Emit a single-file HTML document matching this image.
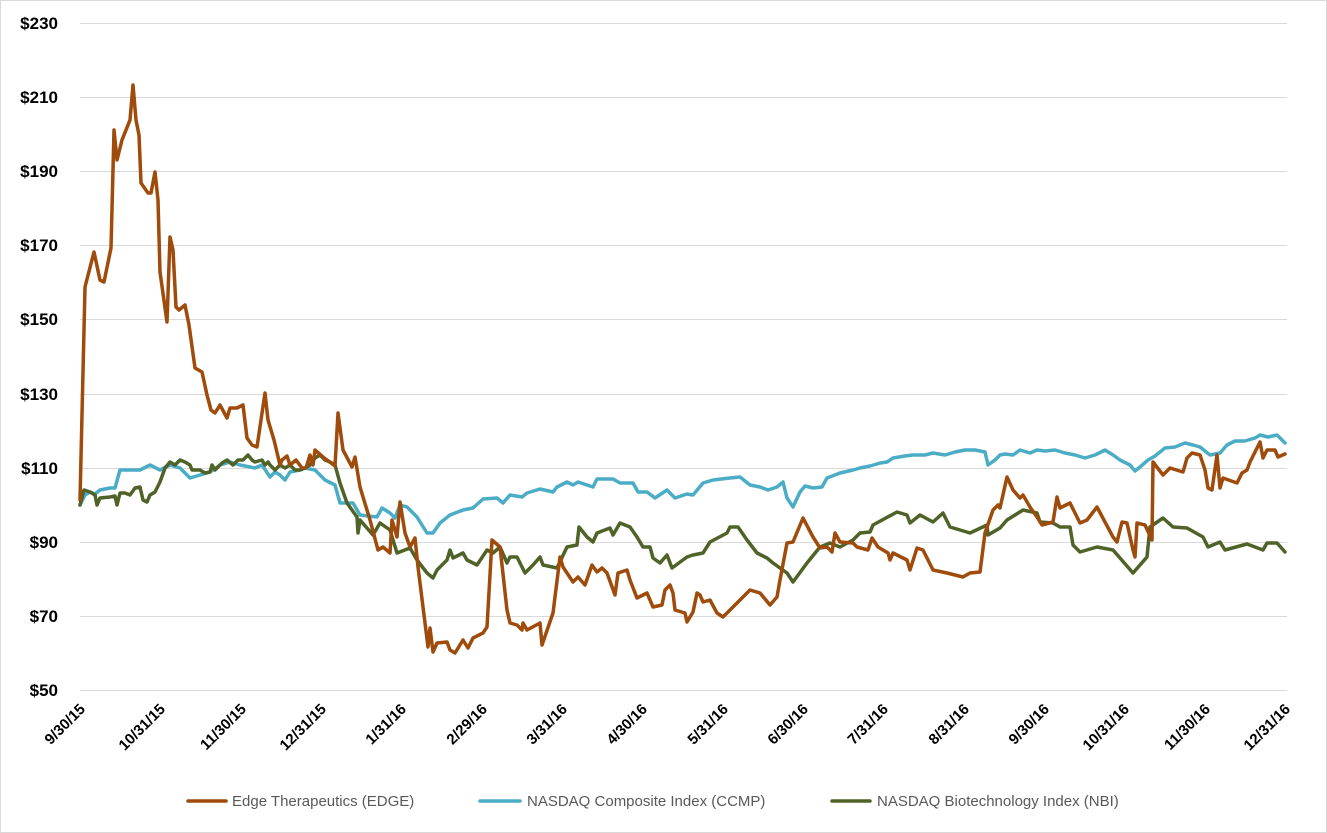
<!DOCTYPE html>
<html><head><meta charset="utf-8"><style>
html,body{margin:0;padding:0;background:#fff;}
svg{display:block;}
</style></head><body>
<svg width="1327" height="833" xmlns="http://www.w3.org/2000/svg" font-family="'Liberation Sans', sans-serif">
<rect x="0.5" y="0.5" width="1326" height="832" fill="#fff" stroke="#d9d9d9"/>
<g stroke="#d9d9d9" stroke-width="1">
<line x1="80" x2="1287" y1="23.5" y2="23.5"/>
<line x1="80" x2="1287" y1="97.5" y2="97.5"/>
<line x1="80" x2="1287" y1="171.5" y2="171.5"/>
<line x1="80" x2="1287" y1="245.5" y2="245.5"/>
<line x1="80" x2="1287" y1="319.5" y2="319.5"/>
<line x1="80" x2="1287" y1="394.5" y2="394.5"/>
<line x1="80" x2="1287" y1="468.5" y2="468.5"/>
<line x1="80" x2="1287" y1="542.5" y2="542.5"/>
<line x1="80" x2="1287" y1="616.5" y2="616.5"/>
<line x1="80" x2="1287" y1="690.5" y2="690.5"/>
</g>
<g font-size="17" font-weight="bold" fill="#000" text-anchor="end">
<text x="58" y="29">$230</text><text x="58" y="103">$210</text><text x="58" y="177">$190</text>
<text x="58" y="251">$170</text><text x="58" y="325">$150</text><text x="58" y="400">$130</text>
<text x="58" y="474">$110</text><text x="58" y="548">$90</text><text x="58" y="622">$70</text>
<text x="58" y="696">$50</text>
</g>
<g font-size="15" font-weight="bold" fill="#000" text-anchor="end">
<text transform="translate(86,710) rotate(-45)">9/30/15</text>
<text transform="translate(166,710) rotate(-45)">10/31/15</text>
<text transform="translate(247,710) rotate(-45)">11/30/15</text>
<text transform="translate(327,710) rotate(-45)">12/31/15</text>
<text transform="translate(407,710) rotate(-45)">1/31/16</text>
<text transform="translate(488,710) rotate(-45)">2/29/16</text>
<text transform="translate(568,710) rotate(-45)">3/31/16</text>
<text transform="translate(648,710) rotate(-45)">4/30/16</text>
<text transform="translate(729,710) rotate(-45)">5/31/16</text>
<text transform="translate(809,710) rotate(-45)">6/30/16</text>
<text transform="translate(889,710) rotate(-45)">7/31/16</text>
<text transform="translate(970,710) rotate(-45)">8/31/16</text>
<text transform="translate(1050,710) rotate(-45)">9/30/16</text>
<text transform="translate(1130,710) rotate(-45)">10/31/16</text>
<text transform="translate(1211,710) rotate(-45)">11/30/16</text>
<text transform="translate(1291,710) rotate(-45)">12/31/16</text>
</g>
<g fill="none" stroke-width="3.5" stroke-linejoin="round" stroke-linecap="round">
<polyline stroke="#4BACC6" points="80,505 85,495 90,492 95,494 100,490 110,488 115,488 120,470 125,470 135,470 140,470 150,465 160,470 170,465 180,468 190,478 200,475 210,472 220,465 230,462 240,465 250,467 255,468 262,465 270,477 275,472 280,475 285,480 290,472 300,470 305,468 315,470 325,480 335,485 340,503 353,503 360,515 377,517 382,508 390,513 395,518 400,505 407,507 417,517 427,533 433,533 440,523 450,515 463,510 473,508 483,499 497,498 503,503 510,495 522,497 527,493 540,489 553,492 557,487 567,482 573,485 578,482 593,487 597,479 613,479 620,483 633,483 638,492 647,492 655,498 667,490 675,498 687,494 693,495 703,483 713,480 730,478 740,477 750,485 760,487 768,490 777,487 783,482 787,498 793,507 800,492 805,486 813,488 822,487 827,478 840,473 853,470 860,468 870,466 880,463 887,462 893,458 905,456 913,455 925,455 933,453 945,455 955,452 965,450 975,450 985,452 988,465 995,460 1000,455 1005,454 1013,455 1020,450 1030,453 1037,450 1045,451 1055,450 1065,453 1075,455 1085,458 1095,455 1105,450 1113,455 1120,460 1130,465 1135,471 1140,467 1148,460 1155,456 1165,448 1175,447 1185,443 1193,445 1200,447 1210,455 1220,453 1227,445 1235,441 1245,441 1255,438 1260,435 1268,437 1277,435 1285,443"/>
<polyline stroke="#4F6228" points="80,505 84,490 90,492 95,495 97,505 100,498 110,497 115,496 117,505 120,493 125,493 130,495 135,488 140,487 143,500 147,502 150,495 155,492 160,482 165,468 170,462 175,465 180,460 185,462 190,465 192,470 200,470 205,473 210,472 212,465 215,470 222,463 227,460 233,465 238,460 243,460 248,455 252,460 255,462 262,460 265,465 268,462 270,465 275,470 280,465 285,468 290,465 295,470 300,470 305,468 310,465 315,458 320,455 325,460 330,462 335,465 340,483 347,503 357,517 358,533 360,520 373,535 380,523 390,530 397,553 410,548 417,560 427,573 433,578 437,570 447,560 450,550 453,558 463,553 467,560 477,565 487,550 493,553 500,547 507,563 510,557 517,557 525,573 533,565 540,557 543,565 557,568 567,547 577,545 579,527 587,537 593,542 597,533 610,528 613,535 620,523 630,527 637,537 643,547 650,547 653,558 660,563 667,555 672,568 687,557 693,555 703,553 710,542 727,533 730,527 738,527 747,540 757,553 767,558 773,563 787,573 793,582 807,563 820,547 830,543 840,547 853,540 860,533 870,532 873,525 897,512 907,515 910,523 920,515 933,522 943,513 950,527 970,533 987,525 988,535 1000,528 1007,520 1023,510 1037,513 1040,522 1053,523 1060,527 1070,527 1073,545 1080,552 1097,547 1113,550 1120,558 1133,573 1147,557 1150,527 1163,518 1173,527 1187,528 1203,537 1208,547 1220,542 1225,550 1247,544 1263,550 1267,543 1277,543 1285,552"/>
<polyline stroke="#9E4B0B" points="80,500 85,287 94,252 100,280 104,282 111,248 114,130 117,160 122,140 130,120 133,85 136,120 139,135 141,183 148,193 151,193 155,172 158,200 160,272 167,322 170,237 173,250 176,307 179,310 185,305 189,325 195,368 202,372 207,395 211,410 215,413 220,405 227,418 230,408 237,408 243,405 247,438 252,445 257,447 265,393 268,420 274,440 280,465 282,460 287,456 290,465 296,460 302,468 306,468 310,455 313,465 315,450 323,457 327,460 335,466 338,413 343,450 352,467 355,457 360,487 370,520 378,550 383,547 390,553 392,520 397,537 400,502 405,533 410,547 415,538 418,567 428,647 430,628 433,652 437,643 447,642 450,650 455,653 463,640 468,648 473,638 483,633 487,627 492,540 500,547 507,610 510,623 517,625 522,630 523,623 527,630 540,623 542,645 553,613 560,557 563,567 573,582 578,577 585,585 592,565 597,572 602,568 607,573 615,595 618,573 627,570 630,580 637,598 647,593 653,607 662,605 665,590 670,585 673,593 675,610 685,613 687,622 693,612 697,593 700,595 703,602 710,600 717,613 723,617 727,613 740,600 750,590 760,593 770,605 777,597 780,580 787,543 793,542 803,518 813,537 820,548 827,547 832,552 835,533 840,542 853,543 857,547 868,550 872,538 878,547 888,553 890,560 893,553 907,560 910,570 917,548 923,550 933,570 947,573 963,577 970,573 980,572 985,533 993,510 998,505 1000,508 1007,477 1013,490 1020,498 1023,495 1030,507 1037,517 1042,525 1053,522 1057,497 1060,508 1070,503 1080,523 1087,520 1097,507 1113,537 1117,542 1122,522 1127,523 1133,550 1135,557 1137,523 1145,525 1152,540 1153,462 1163,475 1170,468 1183,472 1187,458 1192,453 1200,455 1205,470 1208,488 1212,490 1217,455 1220,488 1223,478 1237,483 1242,473 1247,470 1250,462 1260,442 1263,458 1267,450 1275,450 1278,457 1285,454"/>
</g>
<g font-size="15" fill="#595959">
<line x1="188" x2="226" y1="801" y2="801" stroke="#9E4B0B" stroke-width="3.5" stroke-linecap="round"/>
<text x="232" y="806">Edge Therapeutics (EDGE)</text>
<line x1="480" x2="520" y1="801" y2="801" stroke="#4BACC6" stroke-width="3.5" stroke-linecap="round"/>
<text x="527" y="806">NASDAQ Composite Index (CCMP)</text>
<line x1="832" x2="870" y1="801" y2="801" stroke="#4F6228" stroke-width="3.5" stroke-linecap="round"/>
<text x="877" y="806">NASDAQ Biotechnology Index (NBI)</text>
</g>
</svg>
</body></html>
